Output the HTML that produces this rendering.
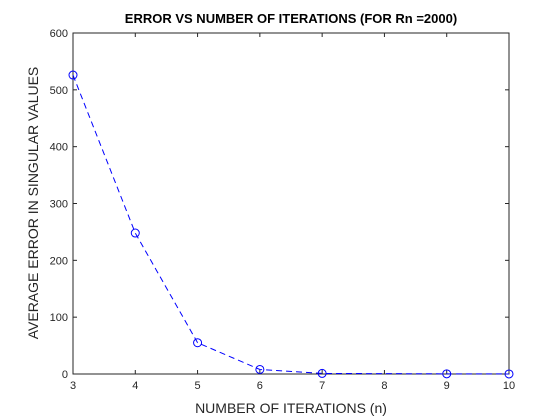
<!DOCTYPE html>
<html><head><meta charset="utf-8"><style>
body{margin:0;background:#fff}
svg{display:block;font-family:"Liberation Sans",Arial,sans-serif}
</style></head><body>
<svg id="chart" width="560" height="420">
<rect width="560" height="420" fill="#fff"/>
<g id="axes"></g>
<g id="series"></g>
</svg>
<script>
const iterations=[3,4,5,6,7,9,10];
const errors=[526,248,55,8,1,0.3,0.1];
const xTicks=[3,4,5,6,7,8,9,10];
const yTicks=[0,100,200,300,400,500,600];
const L=73,R=509,T=33,B=374;
const xs=v=>L+(v-3)/(10-3)*(R-L);
const ys=v=>B-v/600*(B-T);
const NS="http://www.w3.org/2000/svg";
function mk(tag,attrs,parent,text){const e=document.createElementNS(NS,tag);for(const k in attrs)e.setAttribute(k,attrs[k]);if(text!==undefined)e.textContent=text;parent.appendChild(e);return e;}
const ax=document.getElementById('axes');
const box=mk('rect',{x:L,y:T,width:R-L,height:B-T,fill:'#fff',stroke:'#262626','stroke-width':1},ax);


xTicks.forEach(t=>{const x=xs(t);
mk('line',{x1:x,x2:x,y1:B,y2:B-4,stroke:'#262626'},ax);
mk('line',{x1:x,x2:x,y1:T,y2:T+4,stroke:'#262626'},ax);
const lb=mk('text',{x:x,y:B+15,'text-anchor':'middle','font-size':11,fill:'#262626'},ax,t);

});
yTicks.forEach(t=>{const y=ys(t);
mk('line',{x1:L,x2:L+4,y1:y,y2:y,stroke:'#262626'},ax);
mk('line',{x1:R,x2:R-4,y1:y,y2:y,stroke:'#262626'},ax);
const lb=mk('text',{x:L-5,y:y+4,'text-anchor':'end','font-size':11,fill:'#262626'},ax,t);

});
const title=mk('text',{x:291,y:23,'text-anchor':'middle','font-size':13,'font-weight':'bold',fill:'#000'},ax,'ERROR VS NUMBER OF ITERATIONS (FOR Rn =2000)');


const xl=mk('text',{x:291,y:413,'text-anchor':'middle','font-size':14,fill:'#262626'},ax,'NUMBER OF ITERATIONS (n)');


const yl=mk('text',{x:0,y:0,'text-anchor':'middle','font-size':14,fill:'#262626',transform:'translate(38,203) rotate(-90)'},ax,'AVERAGE ERROR IN SINGULAR VALUES');


const sg=document.getElementById('series');
const pts=iterations.map((v,i)=>xs(v)+','+ys(errors[i])).join(' ');
const line=mk('polyline',{points:pts,fill:'none',stroke:'#0000ff','stroke-width':1,'stroke-dasharray':'6,4'},sg);


iterations.forEach((v,i)=>{const c=mk('circle',{cx:xs(v),cy:ys(errors[i]),r:4,fill:'none',stroke:'#0000ff','stroke-width':1},sg);

});
</script>
</body></html>
